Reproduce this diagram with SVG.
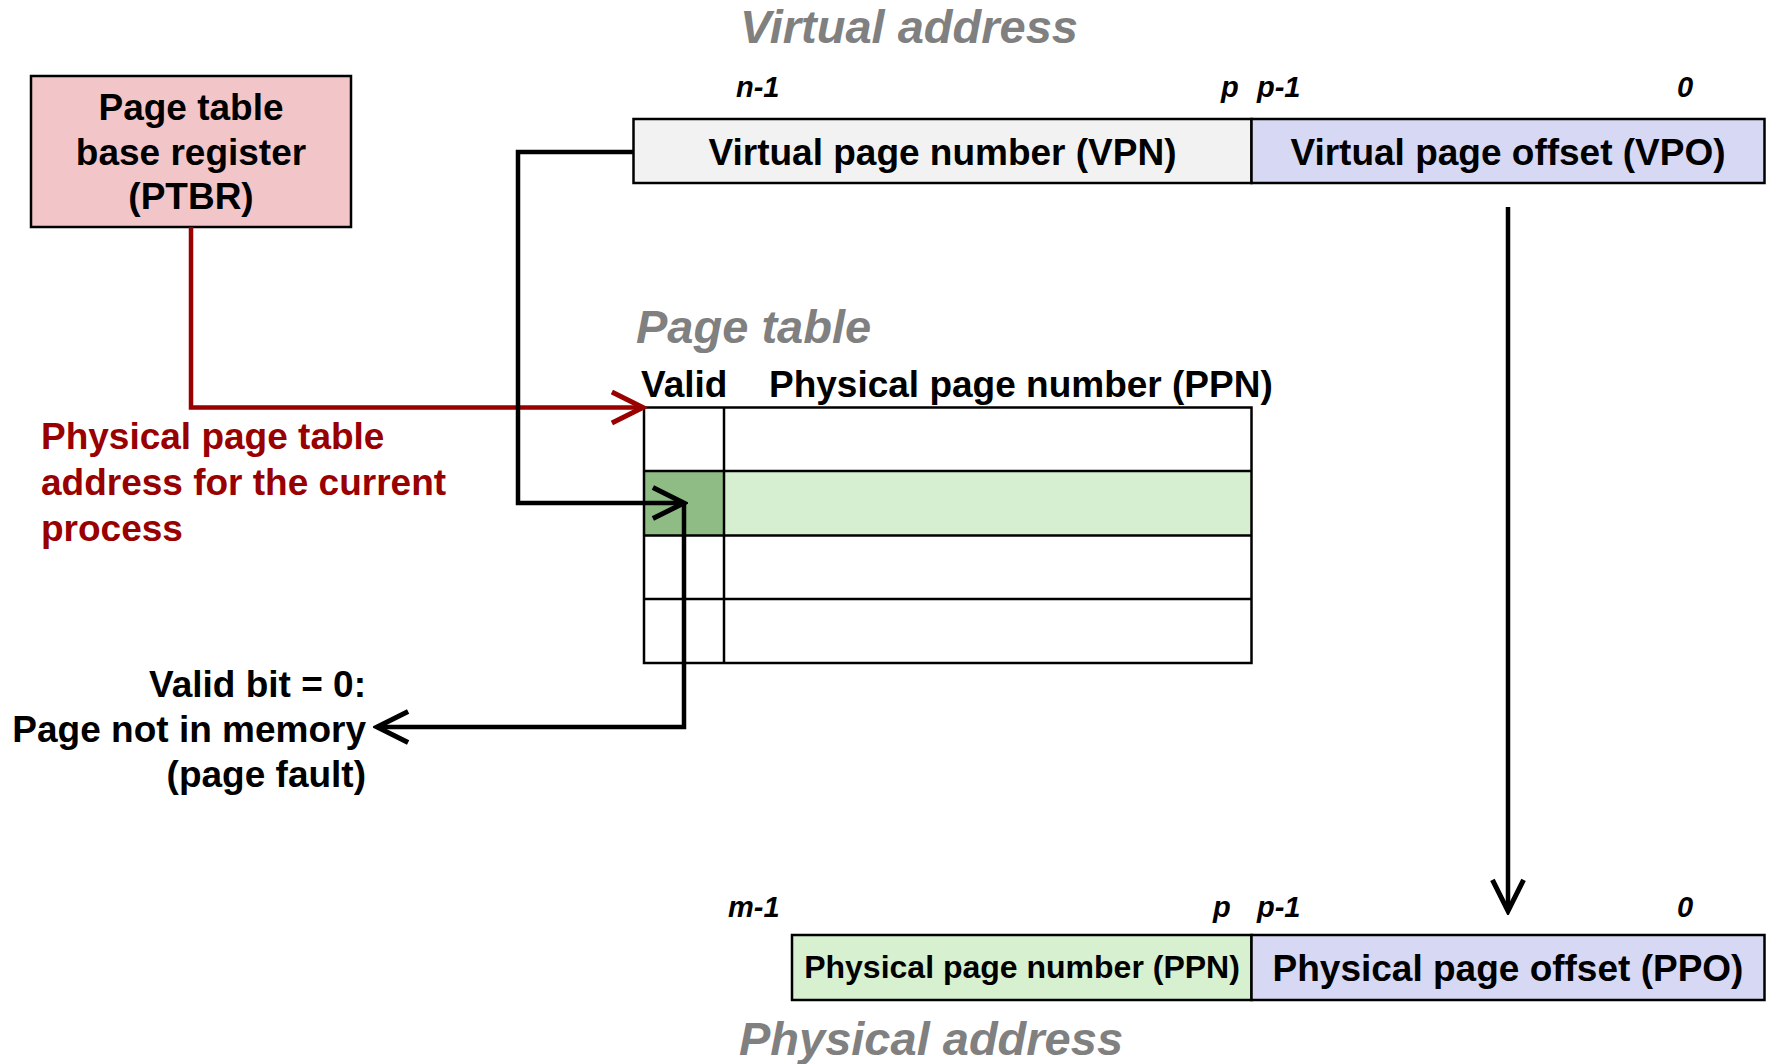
<svg xmlns="http://www.w3.org/2000/svg" width="1771" height="1064" viewBox="0 0 1771 1064">
<defs>
<style>
text{font-family:"Liberation Sans",Arial,sans-serif;font-weight:bold}
.t{font-size:37px;fill:#000}
.title{font-size:47px;font-style:italic;fill:#808080}
.bit{font-size:29px;font-style:italic;fill:#000}
.red{font-size:37px;fill:#990000}
.box{stroke:#000;stroke-width:2.5}
.grid{fill:none;stroke:#000;stroke-width:2.5}
.conn{fill:none;stroke:#000;stroke-width:4.5}
.rconn{fill:none;stroke:#990000;stroke-width:4.5}
</style>
<marker id="ah" markerUnits="userSpaceOnUse" markerWidth="40" markerHeight="40" viewBox="-32 -18 36 36" refX="0" refY="0" orient="auto">
<path d="M-28,-14 L0,0 L-28,14" fill="none" stroke="#000" stroke-width="4.5" stroke-linejoin="miter"/>
</marker>
<marker id="ahr" markerUnits="userSpaceOnUse" markerWidth="40" markerHeight="40" viewBox="-32 -18 36 36" refX="0" refY="0" orient="auto">
<path d="M-28,-14 L0,0 L-28,14" fill="none" stroke="#990000" stroke-width="4.5" stroke-linejoin="miter"/>
</marker>
</defs>
<rect width="1771" height="1064" fill="#fff"/>

<text class="title" x="909" y="43" text-anchor="middle">Virtual address</text>
<text class="title" x="636" y="343">Page table</text>
<text class="title" x="931" y="1055" text-anchor="middle">Physical address</text>

<g id="bits-top">
<text class="bit" x="736" y="97">n-1</text>
<text class="bit" x="1221" y="97">p</text>
<text class="bit" x="1257" y="97">p-1</text>
<text class="bit" x="1677" y="97">0</text>
</g>
<g id="bits-bottom">
<text class="bit" x="728" y="917">m-1</text>
<text class="bit" x="1213" y="917">p</text>
<text class="bit" x="1257" y="917">p-1</text>
<text class="bit" x="1677" y="917">0</text>
</g>

<g id="ptbr">
<rect class="box" x="31" y="76" width="320" height="151" fill="#f2c6c8"/>
<text class="t" x="191" y="120" text-anchor="middle">Page table</text>
<text class="t" x="191" y="164.5" text-anchor="middle">base register</text>
<text class="t" x="191" y="209" text-anchor="middle">(PTBR)</text>
</g>

<g id="vpn">
<rect class="box" x="633.5" y="119" width="618" height="64" fill="#f2f2f2"/>
<text class="t" x="942.5" y="164.5" text-anchor="middle">Virtual page number (VPN)</text>
</g>
<g id="vpo">
<rect class="box" x="1251.5" y="119" width="513" height="64" fill="#d7d8f3"/>
<text class="t" x="1508" y="164.5" text-anchor="middle">Virtual page offset (VPO)</text>
</g>

<g id="page-table">
<text class="t" x="641" y="397">Valid</text>
<text class="t" x="769" y="397">Physical page number (PPN)</text>
<rect x="724" y="471" width="527.5" height="64.5" fill="#d6efd0"/>
<rect x="644" y="471" width="80" height="64.5" fill="#8fbc84"/>
<rect class="grid" x="644" y="407.5" width="607.5" height="255.5"/>
<line class="grid" x1="644" y1="471" x2="1251.5" y2="471"/>
<line class="grid" x1="644" y1="535.5" x2="1251.5" y2="535.5"/>
<line class="grid" x1="644" y1="599" x2="1251.5" y2="599"/>
<line class="grid" x1="724" y1="407.5" x2="724" y2="663"/>
</g>

<g id="ppn">
<rect class="box" x="792" y="935" width="459.5" height="65" fill="#d6f0d0"/>
<text x="1022" y="978" text-anchor="middle" style="font-size:32px">Physical page number (PPN)</text>
</g>
<g id="ppo">
<rect class="box" x="1251.5" y="935" width="513" height="65" fill="#d7d8f3"/>
<text class="t" x="1508" y="981" text-anchor="middle">Physical page offset (PPO)</text>
</g>

<g id="red-label">
<text class="red" x="41" y="449">Physical page table</text>
<text class="red" x="41" y="495">address for the current</text>
<text class="red" x="41" y="541">process</text>
</g>

<g id="fault-label">
<text class="t" x="366" y="697" text-anchor="end">Valid bit = 0:</text>
<text class="t" x="366" y="742" text-anchor="end">Page not in memory</text>
<text class="t" x="366" y="787" text-anchor="end">(page fault)</text>
</g>

<g id="connectors">
<path class="rconn" d="M191,227 L191,407.5 L643,407.5" marker-end="url(#ahr)"/>
<path class="conn" d="M633.5,152 L518,152 L518,503 L684,503" marker-end="url(#ah)"/>
<path class="conn" d="M684,503 L684,727 L377,727" marker-end="url(#ah)"/>
<path class="conn" d="M1508,207 L1508,911" marker-end="url(#ah)"/>
</g>
</svg>
